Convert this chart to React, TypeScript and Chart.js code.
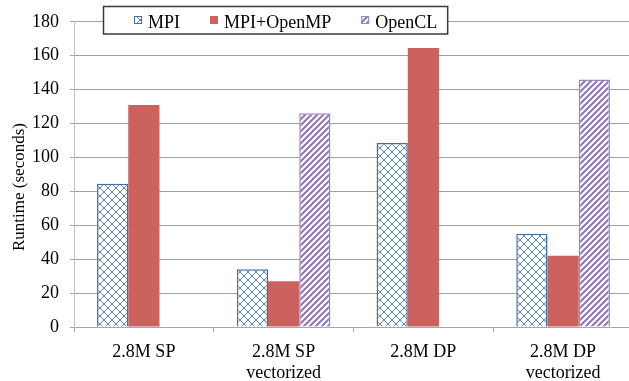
import React, { useEffect, useRef } from "react";
import { Chart, registerables } from "chart.js";

Chart.register(...registerables);

const categories: string[][] = [["2.8M SP"], ["2.8M SP", "vectorized"], ["2.8M DP"], ["2.8M DP", "vectorized"]];
const seriesNames = ["MPI", "MPI+OpenMP", "OpenCL"];
const mpiValues = [84.5, 34, 108.5, 55];
const hybridValues = [131, 27, 164.5, 42];
const openclValues: (number | null)[] = [null, 126, null, 146];
const yTicks = [0, 20, 40, 60, 80, 100, 120, 140, 160, 180];
const yTitle = "Runtime (seconds)";

const SERIF = '"Liberation Serif", "Times New Roman", serif';

function makeCrossPattern(): CanvasPattern | string {
  const c = document.createElement("canvas");
  c.width = 8;
  c.height = 8;
  const g = c.getContext("2d");
  if (!g) return "#ffffff";
  g.fillStyle = "#ffffff";
  g.fillRect(0, 0, 8, 8);
  g.strokeStyle = "#5A86BF";
  g.lineWidth = 1;
  g.beginPath();
  g.moveTo(0, 0);
  g.lineTo(8, 8);
  g.moveTo(8, 0);
  g.lineTo(0, 8);
  g.stroke();
  return g.createPattern(c, "repeat") || "#ffffff";
}

function makeStripePattern(): CanvasPattern | string {
  const c = document.createElement("canvas");
  c.width = 6;
  c.height = 6;
  const g = c.getContext("2d");
  if (!g) return "#ffffff";
  g.fillStyle = "#ffffff";
  g.fillRect(0, 0, 6, 6);
  g.strokeStyle = "#8F74BA";
  g.lineWidth = 2;
  g.beginPath();
  g.moveTo(-1, 7);
  g.lineTo(7, -1);
  g.moveTo(-4, 4);
  g.lineTo(4, -4);
  g.moveTo(2, 10);
  g.lineTo(10, 2);
  g.stroke();
  return g.createPattern(c, "repeat") || "#ffffff";
}

export default function App() {
  const ref = useRef<HTMLCanvasElement | null>(null);

  useEffect(() => {
    document.body.style.margin = "0";
    document.body.style.overflow = "hidden";
    const canvas = ref.current;
    if (!canvas) return;

    const crossPat = makeCrossPattern();
    const stripePat = makeStripePattern();
    const fills = [crossPat, "#CB625E", stripePat];
    const borders = ["#3F6FA8", "#CB625E", "#9C84C5"];

    const overlay = {
      id: "overlay",
      afterDraw(chart: any) {
        const ctx = chart.ctx as CanvasRenderingContext2D;
        ctx.save();
        // y title
        ctx.save();
        ctx.font = `17px ${SERIF}`;
        ctx.fillStyle = "#000";
        ctx.textAlign = "center";
        ctx.textBaseline = "alphabetic";
        ctx.translate(24, 187);
        ctx.rotate(-Math.PI / 2);
        ctx.fillText(yTitle, 0, 0);
        ctx.restore();

        // legend
        ctx.font = `18px ${SERIF}`;
        const startX = 134;
        const markerSize = 8;
        const textGap = 6;
        const itemGap = 30;
        let x = startX;
        const items: { mx: number; tx: number; w: number }[] = [];
        seriesNames.forEach((name) => {
          const w = ctx.measureText(name).width;
          items.push({ mx: x, tx: x + markerSize + textGap, w });
          x = x + markerSize + textGap + w + itemGap;
        });
        const last = items[items.length - 1];
        const boxL = 103;
        const boxR = last.tx + last.w + 10;
        ctx.fillStyle = "#ffffff";
        ctx.fillRect(boxL, 6, boxR - boxL, 28);
        ctx.strokeStyle = "#3a3a3a";
        ctx.lineWidth = 1.5;
        ctx.strokeRect(boxL + 0.5, 6.5, boxR - boxL, 27.5);
        items.forEach((it, i) => {
          ctx.fillStyle = fills[i] as any;
          ctx.fillRect(it.mx, 16, markerSize, markerSize);
          if (i !== 1) {
            ctx.strokeStyle = borders[i];
            ctx.lineWidth = 1;
            ctx.strokeRect(it.mx + 0.5, 16.5, markerSize - 1, markerSize - 1);
          }
          ctx.fillStyle = "#000";
          ctx.textAlign = "left";
          ctx.textBaseline = "alphabetic";
          ctx.fillText(seriesNames[i], it.tx, 28);
        });
        ctx.restore();
      },
    };

    const chart = new Chart(canvas, {
      type: "bar",
      data: {
        labels: categories,
        datasets: [
          {
            label: seriesNames[0],
            data: mpiValues,
            backgroundColor: crossPat as any,
            borderColor: borders[0],
            borderWidth: 1.5,
          },
          {
            label: seriesNames[1],
            data: hybridValues,
            backgroundColor: "#CB625E",
            borderWidth: 0,
          },
          {
            label: seriesNames[2],
            data: openclValues,
            backgroundColor: stripePat as any,
            borderColor: borders[2],
            borderWidth: 1.5,
          },
        ],
      },
      options: {
        responsive: false,
        animation: false,
        devicePixelRatio: 1,
        layout: { padding: { top: 19, right: 7, left: 0, bottom: 0 } },
        datasets: { bar: { categoryPercentage: 0.67, barPercentage: 1 } },
        plugins: {
          legend: { display: false },
          tooltip: { enabled: false },
          title: { display: false },
        },
        scales: {
          x: {
            type: "category",
            offset: true,
            grid: {
              offset: true,
              drawOnChartArea: false,
              drawTicks: true,
              tickLength: 5,
              color: "#A6A6A6",
            },
            border: { color: "#A6A6A6", width: 1 },
            ticks: {
              color: "#000",
              font: { family: SERIF, size: 18, lineHeight: 1.17 },
              padding: 10,
              maxRotation: 0,
              autoSkip: false,
            },
            afterFit(scale: any) {
              scale.height = 54;
            },
          },
          y: {
            min: 0,
            max: 180,
            afterBuildTicks(scale: any) {
              scale.ticks = yTicks.map((v) => ({ value: v }));
            },
            grid: {
              color: "#A0A0A0",
              tickColor: "#A0A0A0",
              tickLength: 4,
              drawTicks: true,
            },
            border: { color: "#BFBFBF", width: 1 },
            ticks: {
              color: "#000",
              font: { family: SERIF, size: 18 },
              padding: 11,
            },
            afterFit(scale: any) {
              scale.width = 74;
            },
          },
        },
      },
      plugins: [overlay],
    });

    return () => {
      chart.destroy();
    };
  }, []);

  return (
    <div style={{ width: 640, height: 381, position: "relative" }}>
      <canvas ref={ref} width={640} height={381} style={{ display: "block" }} />
    </div>
  );
}
